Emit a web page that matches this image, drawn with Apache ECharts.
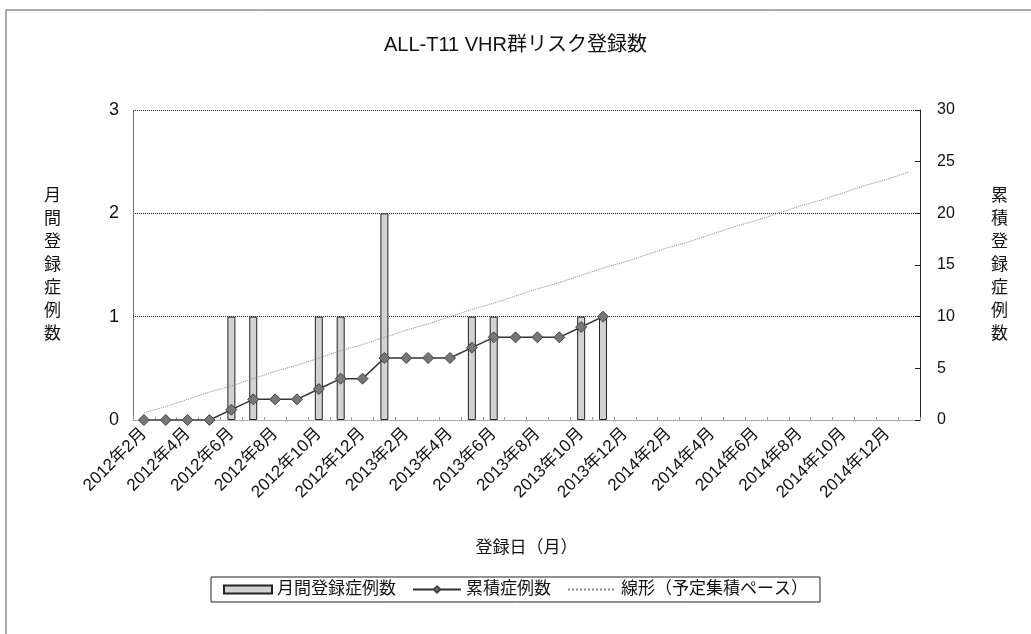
<!DOCTYPE html>
<html>
<head>
<meta charset="utf-8">
<script src="https://cdn.jsdelivr.net/npm/echarts@6/dist/echarts.min.js"></script>
<style>
  html, body { margin: 0; padding: 0; background: #fff; }
  #chart { width: 1031px; height: 634px; }
</style>
</head>
<body>
<div id="chart"></div>
<script>
// months on the x axis (2012/2 .. 2015/1)
var months = [
  '2012年2月','2012年3月','2012年4月','2012年5月','2012年6月','2012年7月',
  '2012年8月','2012年9月','2012年10月','2012年11月','2012年12月','2013年1月',
  '2013年2月','2013年3月','2013年4月','2013年5月','2013年6月','2013年7月',
  '2013年8月','2013年9月','2013年10月','2013年11月','2013年12月','2014年1月',
  '2014年2月','2014年3月','2014年4月','2014年5月','2014年6月','2014年7月',
  '2014年8月','2014年9月','2014年10月','2014年11月','2014年12月','2015年1月'
];

// 月間登録症例数 (bars, left axis)
var monthly = [0, 0, 0, 0, 1, 1, 0, 0, 1, 1, 0, 2, 0, 0, 0, 1, 1, 0, 0, 0, 1, 1,
  null, null, null, null, null, null, null, null, null, null, null, null, null, null];

// 累積症例数 (line with diamonds, right axis)
var cumulative = [0, 0, 0, 0, 1, 2, 2, 2, 3, 4, 4, 6, 6, 6, 6, 7, 8, 8, 8, 8, 9, 10,
  null, null, null, null, null, null, null, null, null, null, null, null, null, null];

// 線形（予定集積ペース） (dotted line, right axis)
var pace = [0.7, 1.3, 2, 2.7, 3.3, 4, 4.7, 5.3, 6, 6.7, 7.3, 8, 8.7, 9.3, 10, 10.7,
  11.3, 12, 12.7, 13.3, 14, 14.7, 15.3, 16, 16.7, 17.3, 18, 18.7, 19.3, 20, 20.7,
  21.3, 22, 22.7, 23.3, 24];

var FONT = '"Liberation Sans", "Noto Sans CJK JP", sans-serif';

// zero months: no outline drawn on the baseline
var monthlyData = monthly.map(function (v) {
  if (v === 0) return { value: v, itemStyle: { borderWidth: 0 } };
  return v;
});

var myChart = echarts.init(document.getElementById('chart'));

var option = {
  animation: false,
  backgroundColor: '#fff',
  textStyle: { fontFamily: FONT, color: '#111' },
  graphic: [{
    // outer chart frame (right/bottom edges are outside the picture)
    type: 'rect',
    shape: { x: 6, y: 10, width: 1100, height: 700 },
    style: { fill: 'none', stroke: '#555', lineWidth: 1 },
    silent: true
  }],
  title: {
    text: 'ALL-T11 VHR群リスク登録数',
    left: 'center',
    top: 30,
    textStyle: { fontFamily: FONT, fontSize: 20, fontWeight: 'normal', color: '#111' }
  },
  legend: {
    top: 577,
    left: 'center',
    borderColor: '#222',
    borderWidth: 1,
    borderRadius: 0,
    padding: [4, 12],
    itemGap: 16,
    itemWidth: 48,
    itemHeight: 8,
    textStyle: { fontFamily: FONT, fontSize: 17, color: '#111' },
    data: [
      { name: '月間登録症例数', icon: 'rect' },
      { name: '累積症例数' },
      { name: '線形（予定集積ペース）', itemStyle: { opacity: 0 } }
    ]
  },
  grid: { left: 133, right: 111, top: 110, bottom: 214 },
  xAxis: {
    type: 'category',
    data: months,
    name: '登録日（月）',
    nameLocation: 'middle',
    nameGap: 120,
    nameTextStyle: { fontFamily: FONT, fontSize: 17, color: '#111' },
    axisLine: { lineStyle: { color: '#999', type: 'dotted' } },
    axisTick: { show: true, inside: true, length: 3, interval: 0, lineStyle: { color: '#999' } },
    axisLabel: { interval: 1, rotate: 45, margin: 11, fontSize: 17, color: '#111', fontFamily: FONT },
    splitLine: { show: false }
  },
  yAxis: [{
    type: 'value',
    min: 0, max: 3, interval: 1,
    name: '月\n間\n登\n録\n症\n例\n数',
    nameLocation: 'middle',
    nameRotate: 0,
    nameGap: 72,
    nameTextStyle: { fontFamily: FONT, fontSize: 17, lineHeight: 23, color: '#111' },
    axisLine: { show: true, lineStyle: { color: '#555', type: 'dotted' } },
    axisTick: { show: false },
    axisLabel: { margin: 14, fontSize: 18, color: '#111', fontFamily: FONT },
    splitLine: { show: true, lineStyle: { color: '#222', type: 'dotted', width: 1 } }
  }, {
    type: 'value',
    min: 0, max: 30, interval: 5,
    name: '累\n積\n登\n録\n症\n例\n数',
    nameLocation: 'middle',
    nameRotate: 0,
    nameGap: 71,
    nameTextStyle: { fontFamily: FONT, fontSize: 17, lineHeight: 23, color: '#111' },
    axisLine: { show: true, lineStyle: { color: '#222', width: 1 } },
    axisTick: { show: true, inside: true, length: 5, lineStyle: { color: '#222' } },
    axisLabel: { margin: 17, fontSize: 16, color: '#111', fontFamily: FONT },
    splitLine: { show: false }
  }],
  series: [{
    name: '月間登録症例数',
    type: 'bar',
    yAxisIndex: 0,
    barWidth: 8,
    data: monthlyData,
    itemStyle: { color: '#d2d2d2', borderColor: '#222', borderWidth: 1 },
    z: 2
  }, {
    name: '線形（予定集積ペース）',
    type: 'line',
    yAxisIndex: 1,
    data: pace,
    symbol: 'none',
    lineStyle: { color: '#888', width: 1, type: 'dotted' },
    itemStyle: { color: '#888' },
    z: 3
  }, {
    name: '累積症例数',
    type: 'line',
    yAxisIndex: 1,
    data: cumulative,
    symbol: 'diamond',
    symbolSize: 11,
    lineStyle: { color: '#333', width: 1.5 },
    itemStyle: { color: '#777', borderColor: '#444', borderWidth: 1 },
    z: 4
  }]
};

myChart.setOption(option);
</script>
</body>
</html>
